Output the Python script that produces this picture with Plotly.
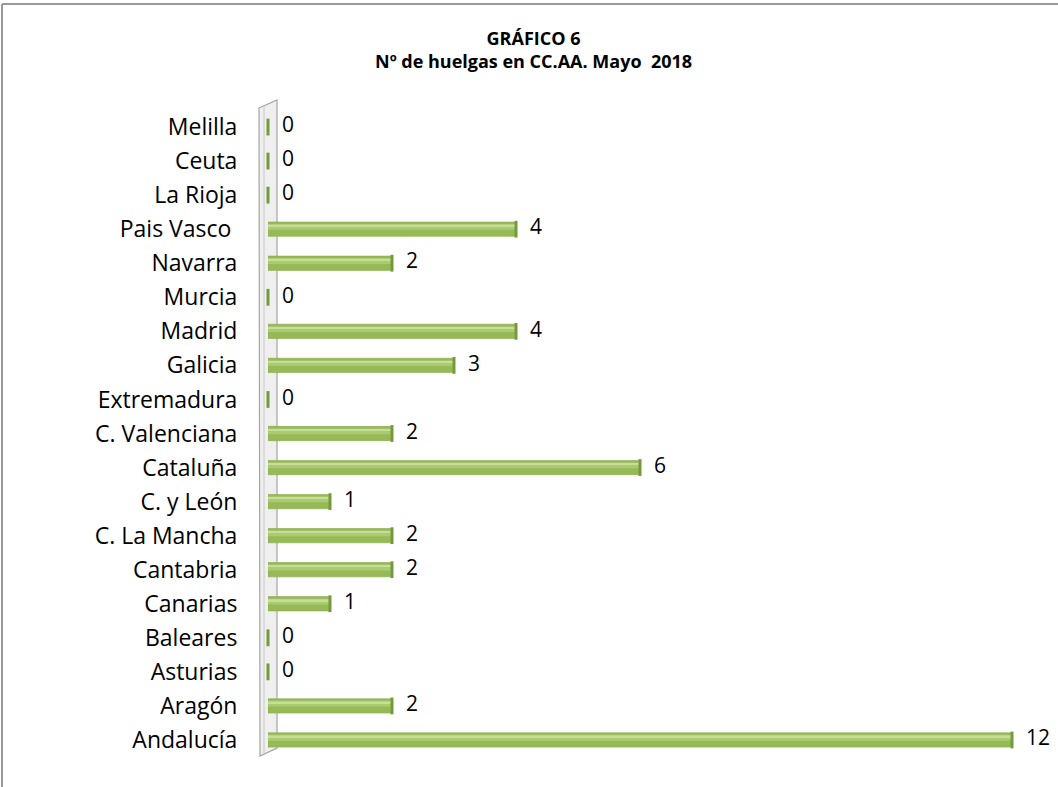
import plotly.graph_objects as go

# datos del grafico
comunidades = ['Andalucía', 'Aragón', 'Asturias', 'Baleares', 'Canarias', 'Cantabria',
               'C. La Mancha', 'C. y León', 'Cataluña', 'C. Valenciana', 'Extremadura',
               'Galicia', 'Madrid', 'Murcia', 'Navarra', 'Pais Vasco ', 'La Rioja',
               'Ceuta', 'Melilla']
huelgas = [12, 2, 0, 0, 1, 2, 2, 1, 6, 2, 0, 3, 4, 0, 2, 4, 0, 0, 0]

titulo = '<b>GRÁFICO 6</b><br><b>Nº de huelgas en CC.AA. Mayo  2018</b>'

W, H = 1058, 787
ml, mr, mt, mb = 268, 15, 110, 30
pw = W - ml - mr
ph = H - mt - mb

# pixel de la pagina -> coordenada paper
def px(x):
    return (x - ml) / pw

def py(y):
    return (H - mb - y) / ph

fig = go.Figure()

# cilindro: cuerpo + brillo
fig.add_trace(go.Bar(x=huelgas, y=comunidades, orientation='h', width=0.42,
                     marker=dict(color='#97BA58', line=dict(color='#88A94B', width=0.6)),
                     hoverinfo='skip'))
fig.add_trace(go.Bar(x=huelgas, y=comunidades, orientation='h', width=0.17, offset=-0.02,
                     marker=dict(color='#ABCB6F', line=dict(width=0)),
                     hoverinfo='skip'))
fig.add_trace(go.Bar(x=huelgas, y=comunidades, orientation='h', width=0.05, offset=0.08,
                     marker=dict(color='#C6DD9B', line=dict(width=0)),
                     hoverinfo='skip'))

# tapa del cilindro y etiquetas
fig.add_trace(go.Scatter(x=huelgas, y=comunidades, mode='markers+text',
                         text=[' ' + str(v) for v in huelgas], textposition='middle right',
                         textfont=dict(family='Open Sans', size=21, color='#000000'),
                         marker=dict(symbol='line-ns', size=12,
                                     line=dict(color='#759A3A', width=3)),
                         cliponaxis=False, hoverinfo='skip'))

fig.update_layout(
    width=W, height=H,
    margin=dict(l=ml, r=mr, t=mt, b=mb),
    paper_bgcolor='white', plot_bgcolor='white',
    barmode='overlay', showlegend=False,
    xaxis=dict(range=[0, 12.5], visible=False),
    yaxis=dict(type='category', categoryorder='array', categoryarray=comunidades,
               range=[-0.5, 18.5], showgrid=False, zeroline=False, showline=False,
               ticks='outside', ticklen=25, tickcolor='rgba(0,0,0,0)',
               tickfont=dict(family='Open Sans', size=23, color='#000000')),
)

# titulo en dos lineas
fig.add_annotation(text=titulo, xref='paper', yref='paper', x=px(533), y=py(50),
                   showarrow=False, xanchor='center', yanchor='middle',
                   font=dict(family='Open Sans', size=18, color='#000000'))

# pared lateral 3D
pared = 'M {} {} L {} {} L {} {} L {} {} Z'.format(
    px(259), py(108), px(277), py(100), px(277), py(748), px(260), py(756))
fig.add_shape(type='path', path=pared, xref='paper', yref='paper', layer='below',
              fillcolor='#EFEFEF', line=dict(color='#A6A6A6', width=1.2))
fig.add_shape(type='line', xref='paper', yref='paper', layer='below',
              x0=px(264), y0=py(106), x1=px(264), y1=py(754),
              line=dict(color='#C8C8C8', width=1))

# borde del grafico
fig.add_shape(type='line', xref='paper', yref='paper', x0=px(2), y0=py(4), x1=px(W), y1=py(4),
              line=dict(color='#9A9A9A', width=2))
fig.add_shape(type='line', xref='paper', yref='paper', x0=px(2), y0=py(4), x1=px(2), y1=py(H),
              line=dict(color='#9A9A9A', width=2))

# sin margen del body para que la figura empiece en 0,0
fig.write_html("out.html", config={'displayModeBar': False},
               post_script="document.body.style.margin='0px';")
